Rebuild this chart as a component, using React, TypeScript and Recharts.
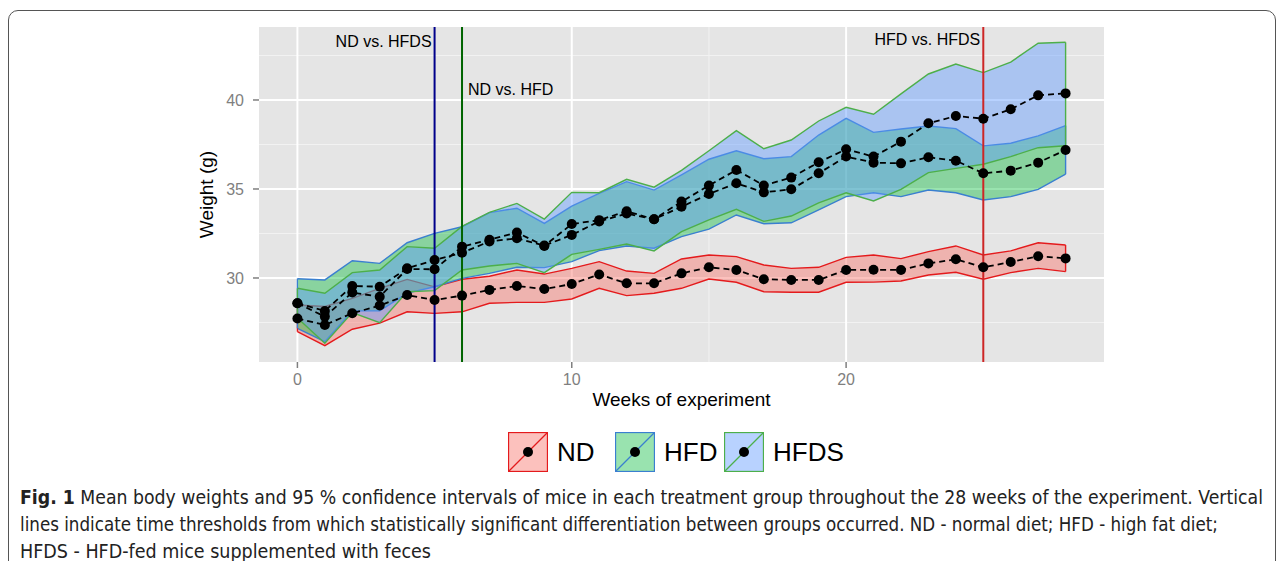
import {
  Area,
  CartesianGrid,
  ComposedChart,
  Line,
  ReferenceLine,
  XAxis,
  YAxis,
} from "recharts";

// weeks of the experiment
const weeks = [
  0, 1, 2, 3, 4, 5, 6, 7, 8, 9, 10, 11, 12, 13, 14, 15, 16, 17, 18, 19, 20, 21,
  22, 23, 24, 25, 26, 27, 28,
];

// mean body weight (g) and 95 % CI per group
const ndMean = [
  27.72, 27.36, 28.02, 28.45, 29.04, 28.76, 29.01, 29.33, 29.55, 29.38, 29.66,
  30.2, 29.7, 29.7, 30.26, 30.6, 30.45, 29.93, 29.89, 29.89, 30.45, 30.46,
  30.45, 30.82, 31.05, 30.6, 30.9, 31.22, 31.1,
];
const ndLow = [
  26.98, 26.2, 27.12, 27.46, 28.1, 28.01, 28.1, 28.58, 28.63, 28.63, 28.82,
  29.42, 29.01, 29.14, 29.42, 29.94, 29.76, 29.23, 29.2, 29.2, 29.76, 29.77,
  29.83, 30.17, 30.32, 29.93, 30.3, 30.54, 30.36,
];
const ndHigh = [
  28.48, 28.4, 28.85, 29.42, 29.92, 29.5, 29.93, 30.1, 30.45, 30.22, 30.54,
  30.92, 30.39, 30.26, 31.07, 31.29, 31.2, 30.73, 30.54, 30.6, 31.16, 31.29,
  31.09, 31.48, 31.8, 31.29, 31.52, 31.98, 31.85,
];

const hfdMean = [
  28.58, 28.15, 29.55, 29.51, 30.54, 31.01, 31.42, 32.05, 32.23, 31.82, 32.42,
  33.18, 33.62, 33.3, 34.0, 34.72, 35.32, 34.81, 34.98, 35.88, 36.82, 36.48,
  36.44, 36.78, 36.59, 35.88, 36.03, 36.48, 37.19,
];
const hfdLow = [
  27.17, 26.42, 28.15, 28.15, 29.15, 29.51, 29.98, 30.26, 30.6, 30.58, 30.92,
  31.54, 31.8, 31.67, 32.32, 32.74, 33.54, 33.05, 33.1, 33.82, 34.57, 34.79,
  34.57, 34.94, 34.79, 34.38, 34.57, 34.98, 35.83,
];
const hfdHigh = [
  29.96, 29.89, 30.97, 30.82, 31.98, 32.51, 32.88, 33.67, 33.92, 33.07, 34.04,
  34.75, 35.41, 34.94, 35.79, 36.67, 37.15, 36.7, 36.82, 38.03, 38.97, 38.18,
  38.37, 38.54, 38.39, 37.42, 37.57, 37.98, 38.56,
];

const hfdsMean = [
  28.58, 27.83, 29.18, 28.95, 30.5, 30.49, 31.76, 32.15, 32.55, 31.8, 33.03,
  33.25, 33.75, 33.3, 34.29, 35.19, 36.07, 35.2, 35.64, 36.5, 37.23, 36.82,
  37.66, 38.69, 39.1, 38.95, 39.48, 40.26, 40.37,
];
const hfdsLow = [
  27.75, 26.33, 28.06, 27.49, 29.23, 29.29, 30.45, 30.67, 30.82, 30.3, 31.33,
  31.61, 31.91, 31.52, 32.6, 33.26, 33.86, 33.18, 33.48, 34.22, 34.79, 34.33,
  34.98, 35.92, 36.16, 36.39, 36.82, 37.32, 37.43,
];
const hfdsHigh = [
  29.42, 29.14, 30.3, 30.45, 31.76, 31.67, 32.9, 33.69, 34.19, 33.31, 34.81,
  34.79, 35.54, 35.1, 36.05, 37.15, 38.28, 37.26, 37.75, 38.82, 39.59, 39.2,
  40.34, 41.46, 42.02, 41.54, 42.13, 43.19, 43.24,
];

const xTicks = [0, 10, 20];
const xMinor = [5, 15, 25];
const yTicks = [30, 35, 40];
const yMinor = [27.5, 32.5, 37.5, 42.5];

// weeks from which groups differ significantly
const thresholds = [
  { week: 5, text: "ND vs. HFDS", color: "#00008B", anchor: "end", dx: -3, dy: 20 },
  { week: 6, text: "ND vs. HFD", color: "#006400", anchor: "start", dx: 6, dy: 68 },
  { week: 25, text: "HFD vs. HFDS", color: "#CD2626", anchor: "end", dx: -3, dy: 18 },
];

const groups = [
  { key: "nd", name: "ND", fill: "#F8766D", opacity: 0.45, stroke: "#E41A1C", low: ndLow, high: ndHigh },
  { key: "hfd", name: "HFD", fill: "#00BA38", opacity: 0.4, stroke: "#3A7FD0", low: hfdLow, high: hfdHigh },
  { key: "hfds", name: "HFDS", fill: "#619CFF", opacity: 0.45, stroke: "#4DAF4A", low: hfdsLow, high: hfdsHigh },
];

const rows = weeks.map((week, i) => ({
  week,
  nd: [ndLow[i], ndHigh[i]],
  ndMean: ndMean[i],
  hfd: [hfdLow[i], hfdHigh[i]],
  hfdMean: hfdMean[i],
  hfds: [hfdsLow[i], hfdsHigh[i]],
  hfdsMean: hfdsMean[i],
}));

const captionLines = [
  { bold: "Fig. 1", text: " Mean body weights and 95 % confidence intervals of mice in each treatment group throughout the 28 weeks of the experiment. Vertical", width: 1243 },
  { bold: "", text: "lines indicate time thresholds from which statistically significant differentiation between groups occurred. ND - normal diet; HFD - high fat diet;", width: 1198 },
  { bold: "", text: "HFDS - HFD-fed mice supplemented with feces", width: 411 },
];

const FONT = "'Liberation Sans', Arial, sans-serif";
const last = weeks.length - 1;

function LegendKey({ g }: { g: (typeof groups)[number] }) {
  return (
    <svg width={40} height={40}>
      <rect x={0.5} y={0.5} width={39} height={39} fill="#fff" />
      <rect x={0.5} y={0.5} width={39} height={39} fill={g.fill} fillOpacity={g.opacity} stroke={g.stroke} strokeWidth={1.3} />
      <line x1={0.5} y1={39.5} x2={39.5} y2={0.5} stroke={g.stroke} strokeWidth={1.3} />
      <circle cx={20} cy={20} r={5} fill="#000" />
    </svg>
  );
}

const legendLeft = [500, 607, 716];

export default function App() {
  return (
    <div
      style={{
        position: "relative",
        width: 1268,
        height: 561,
        marginBottom: -8,
        overflow: "hidden",
        fontFamily: FONT,
      }}
    >
      <div
        style={{
          position: "absolute",
          left: 0,
          top: 2,
          width: 1266,
          height: 600,
          border: "1px solid #555",
          borderRadius: 10,
        }}
      />
      <div style={{ position: "absolute", left: 0, top: 0 }}>
        <ComposedChart
          width={1268}
          height={410}
          data={rows}
          margin={{ top: 19, right: 172, bottom: 6, left: 0 }}
        >
          <CartesianGrid
            fill="#E5E5E5"
            stroke="#F2F2F2"
            strokeWidth={1}
            horizontalValues={yMinor}
            verticalValues={xMinor}
          />
          <CartesianGrid
            stroke="#FFFFFF"
            strokeWidth={2}
            horizontalValues={yTicks}
            verticalValues={xTicks}
          />
          <XAxis
            dataKey="week"
            type="number"
            domain={[-1.4, 29.4]}
            ticks={xTicks}
            allowDataOverflow
            axisLine={false}
            tickSize={6}
            tickMargin={6}
            height={50}
            tickLine={{ stroke: "#7F7F7F", strokeWidth: 1.5 }}
            tick={{ fill: "#7F7F7F", fontSize: 16, fontFamily: FONT }}
            label={(p: any) => (
              <text
                x={p.viewBox.x + p.viewBox.width / 2}
                y={p.viewBox.y + 44}
                textAnchor="middle"
                fontSize={19}
                fontFamily={FONT}
                fill="#000"
              >
                Weeks of experiment
              </text>
            )}
          />
          <YAxis
            type="number"
            domain={[25.28, 44.1]}
            ticks={yTicks}
            allowDataOverflow
            axisLine={false}
            width={251}
            tickSize={6}
            tickMargin={9}
            tickLine={{ stroke: "#7F7F7F", strokeWidth: 1.5 }}
            tick={{ fill: "#7F7F7F", fontSize: 16, fontFamily: FONT }}
            label={(p: any) => {
              const cx = p.viewBox.x + 198;
              const cy = p.viewBox.y + p.viewBox.height / 2;
              return (
                <text
                  x={cx}
                  y={cy}
                  transform={`rotate(-90 ${cx} ${cy})`}
                  textAnchor="middle"
                  dominantBaseline="central"
                  fontSize={19}
                  fontFamily={FONT}
                  fill="#000"
                >
                  Weight (g)
                </text>
              );
            }}
          />
          {groups.map((g) => (
            <Area
              key={g.key}
              type="linear"
              dataKey={g.key}
              fill={g.fill}
              fillOpacity={g.opacity}
              stroke={g.stroke}
              strokeWidth={1.4}
              dot={false}
              activeDot={false}
              isAnimationActive={false}
            />
          ))}
          {groups.map((g) =>
            [0, last].map((i) => (
              <ReferenceLine
                key={`${g.key}-end-${i}`}
                segment={[
                  { x: weeks[i], y: g.low[i] },
                  { x: weeks[i], y: g.high[i] },
                ]}
                stroke={g.stroke}
                strokeWidth={1.4}
              />
            ))
          )}
          {thresholds.map((t) => (
            <ReferenceLine
              key={t.text}
              x={t.week}
              stroke={t.color}
              strokeWidth={2}
              label={(p: any) => (
                <text
                  x={p.viewBox.x + t.dx}
                  y={p.viewBox.y + t.dy}
                  textAnchor={t.anchor}
                  fontSize={16}
                  fontFamily={FONT}
                  fill="#000"
                >
                  {t.text}
                </text>
              )}
            />
          ))}
          {groups.map((g) => (
            <Line
              key={`${g.key}Mean`}
              type="linear"
              dataKey={`${g.key}Mean`}
              stroke="#000"
              strokeWidth={1.8}
              strokeDasharray="6 4"
              dot={{ r: 5, fill: "#000", stroke: "none" }}
              activeDot={false}
              isAnimationActive={false}
            />
          ))}
        </ComposedChart>
      </div>
      {groups.map((g, i) => (
        <div
          key={g.key}
          style={{
            position: "absolute",
            left: legendLeft[i],
            top: 424,
            display: "flex",
            alignItems: "center",
            gap: 9,
            fontSize: 26,
            lineHeight: "40px",
          }}
        >
          <LegendKey g={g} />
          <span>{g.name}</span>
        </div>
      ))}
      <svg
        width={1268}
        height={89}
        style={{ position: "absolute", left: 0, top: 472 }}
      >
        {captionLines.map((l, i) => (
          <text
            key={i}
            x={12}
            y={24 + i * 27}
            textLength={l.width}
            lengthAdjust="spacingAndGlyphs"
            fontSize={19}
            fontFamily="'Liberation Sans Narrow', 'DejaVu Sans Condensed', Arial, sans-serif"
            fill="#222"
          >
            {l.bold ? <tspan fontWeight="bold">{l.bold}</tspan> : null}
            {l.text}
          </text>
        ))}
      </svg>
    </div>
  );
}
